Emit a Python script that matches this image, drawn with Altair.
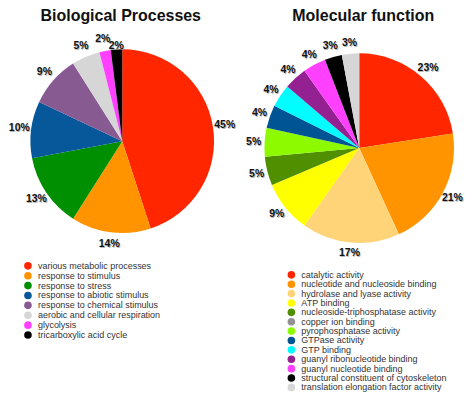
import altair as alt
import pandas as pd

# ---------------- data ----------------
bp_title = "Biological Processes"
bp_categories = [
    "various metabolic processes",
    "response to stimulus",
    "response to stress",
    "response to abiotic stimulus",
    "response to chemical stimulus",
    "aerobic and cellular respiration",
    "glycolysis",
    "tricarboxylic acid cycle",
]
bp_values = [45, 14, 13, 10, 9, 5, 2, 2]
bp_colors = ["#FF2600", "#FF9300", "#008F00", "#07579B", "#875A92",
             "#D6D6D6", "#FF40FF", "#000000"]

mf_title = "Molecular function"
mf_categories = [
    "catalytic activity",
    "nucleotide and nucleoside binding",
    "hydrolase and lyase activity",
    "ATP binding",
    "nucleoside-triphosphatase activity",
    "copper ion binding",
    "pyrophosphatase activity",
    "GTPase activity",
    "GTP binding",
    "guanyl ribonucleotide binding",
    "guanyl nucleotide binding",
    "structural constituent of cytoskeleton",
    "translation elongation factor activity",
]
mf_values = [23, 21, 17, 9, 5, 0, 5, 4, 4, 4, 4, 3, 3]
mf_colors = ["#FF2600", "#FF9300", "#FFD479", "#FFFF00", "#4F8F00",
             "#929292", "#8EFA00", "#005493", "#00FDFF", "#942192",
             "#FF40FF", "#000000", "#D6D6D6"]

FONT = "Liberation Sans"


def panel(title, cats, vals, colors, w, h, cx, cy, r, label_r,
          title_x, title_y, leg_x, leg_y0, leg_step, inner_label_idx=-1):
    n = len(cats)
    df = pd.DataFrame({
        "category": cats,
        "value": vals,
        "idx": list(range(n)),
        "label": [f"{v}%" for v in vals],
    })
    base = alt.Chart(df)
    pie = base.transform_filter("datum.value > 0")
    color = alt.Color("category:N", scale=alt.Scale(domain=cats, range=colors), legend=None)
    theta = alt.Theta("value:Q", stack=True)
    order = alt.Order("idx:Q", sort="ascending")

    arcs = pie.mark_arc(outerRadius=r).encode(
        theta=theta, color=color, order=order,
        x=alt.value(cx), y=alt.value(cy))

    # label angles: middle of each slice, same order as the pie
    lab = pie.transform_joinaggregate(total="sum(value)").transform_window(
        cum="sum(value)", sort=[alt.SortField("idx", order="ascending")],
        frame=[None, 0]).transform_calculate(
        mid="2 * PI * (datum.cum - datum.value / 2) / datum.total",
        lr=f"datum.idx == {inner_label_idx} ? {label_r - 8} : {label_r}")
    t_enc = alt.Theta("mid:Q", scale=None, stack=False)
    r_enc = alt.Radius("lr:Q", scale=None)

    shadow = lab.mark_text(font=FONT, fontSize=10.5, fontWeight="bold",
                           color="#9a9a9a", dx=0.8, dy=1, opacity=0.7).encode(
        theta=t_enc, radius=r_enc, text="label:N",
        x=alt.value(cx), y=alt.value(cy))
    labels = lab.mark_text(font=FONT, fontSize=10.5, fontWeight="bold",
                           color="#111111").encode(
        theta=t_enc, radius=r_enc, text="label:N",
        x=alt.value(cx), y=alt.value(cy))

    ttl = alt.Chart(pd.DataFrame({"t": [title]})).mark_text(
        font=FONT, fontSize=16, fontWeight="bold", color="#111111",
        align="center", baseline="alphabetic").encode(
        text="t:N", x=alt.value(title_x), y=alt.value(title_y))

    ly = alt.Y("idx:Q", scale=alt.Scale(domain=[0, n - 1],
                                          range=[leg_y0, leg_y0 + leg_step * (n - 1)]),
               axis=None)
    dots = base.mark_point(shape="circle", filled=True, size=58, opacity=1).encode(
        x=alt.value(leg_x), y=ly, color=color)
    texts = base.mark_text(font=FONT, fontSize=9, align="left", baseline="middle",
                           color="#333333").encode(
        x=alt.value(leg_x + 10), y=ly, text="category:N")

    return alt.layer(arcs, shadow, labels, ttl, dots, texts).resolve_scale(
        color="shared").properties(width=w, height=h)


left = panel(bp_title, bp_categories, bp_values, bp_colors,
             w=228, h=382, cx=114.5, cy=132, r=92, label_r=104,
             title_x=113, title_y=12, leg_x=20, leg_y0=257, leg_step=9.9,
             inner_label_idx=7)
right = panel(mf_title, mf_categories, mf_values, mf_colors,
              w=228, h=382, cx=123, cy=139, r=95, label_r=106,
              title_x=127, title_y=12, leg_x=55, leg_y0=266, leg_step=9.4)

chart = alt.hconcat(left, right, spacing=0, padding=0, background="white").resolve_scale(
    color="independent", y="independent").configure_view(stroke=None, strokeWidth=0)

chart.save("out.html", embed_options={"renderer": "svg", "actions": False})
